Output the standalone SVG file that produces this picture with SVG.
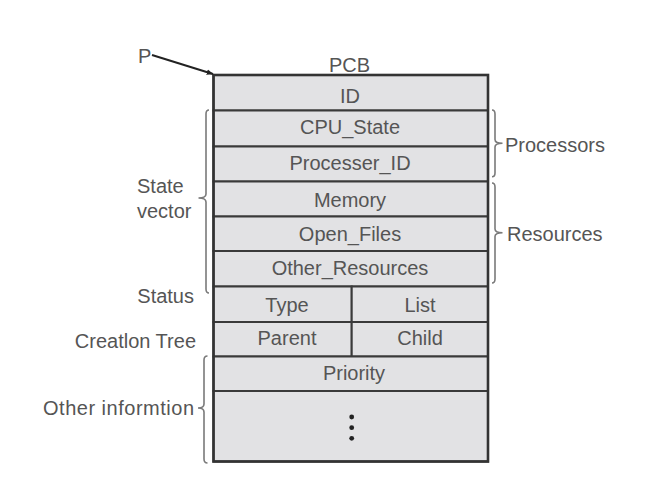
<svg xmlns="http://www.w3.org/2000/svg" width="669" height="495" viewBox="0 0 669 495">
<style>
.cell{fill:#e2e2e4;stroke:#3a3a3a;stroke-width:2}
.t{font-family:"Liberation Sans",Arial,sans-serif;font-size:20px;fill:#555}
.c{text-anchor:middle}
.e{text-anchor:end}
.br{fill:none;stroke:#7a7a7a;stroke-width:1.6}
</style>
<defs>
<marker id="ah" viewBox="0 0 10 10" refX="9" refY="5" markerWidth="7" markerHeight="7" orient="auto" markerUnits="userSpaceOnUse">
<path d="M0,1 L10,5 L0,9 Z" fill="#222"/>
</marker>
</defs>
<rect width="669" height="495" fill="#fff"/>

<g id="pcb">
<text class="t c" x="349.5" y="71.5">PCB</text>
<g id="row-id"><rect class="cell" x="213.5" y="75" width="274.5" height="35.5"/><text class="t c" x="350" y="103">ID</text></g>
<g id="row-cpu"><rect class="cell" x="213.5" y="110.5" width="274.5" height="36"/><text class="t c" x="350" y="134">CPU_State</text></g>
<g id="row-procid"><rect class="cell" x="213.5" y="146.5" width="274.5" height="35"/><text class="t c" x="350" y="170">Processer_ID</text></g>
<g id="row-mem"><rect class="cell" x="213.5" y="181.5" width="274.5" height="35"/><text class="t c" x="350" y="206.5">Memory</text></g>
<g id="row-files"><rect class="cell" x="213.5" y="216.5" width="274.5" height="34.5"/><text class="t c" x="350" y="240.5">Open_Files</text></g>
<g id="row-other"><rect class="cell" x="213.5" y="251" width="274.5" height="35.5"/><text class="t c" x="350" y="275">Other_Resources</text></g>
<g id="row-type"><rect class="cell" x="213.5" y="286.5" width="138.2" height="35.5"/><text class="t c" x="287" y="311.5">Type</text></g>
<g id="row-list"><rect class="cell" x="351.7" y="286.5" width="136.3" height="35.5"/><text class="t c" x="420" y="311.5">List</text></g>
<g id="row-parent"><rect class="cell" x="213.5" y="322" width="138.2" height="34.5"/><text class="t c" x="287" y="345">Parent</text></g>
<g id="row-child"><rect class="cell" x="351.7" y="322" width="136.3" height="34.5"/><text class="t c" x="420" y="345">Child</text></g>
<g id="row-priority"><rect class="cell" x="213.5" y="356.5" width="274.5" height="34.5"/><text class="t c" x="354" y="380">Priority</text></g>
<g id="row-more"><rect class="cell" x="213.5" y="391" width="274.5" height="70.5"/>
<circle cx="351.7" cy="417" r="2.4" fill="#222"/><circle cx="351.7" cy="427.7" r="2.4" fill="#222"/><circle cx="351.7" cy="438.3" r="2.4" fill="#222"/></g>
<rect x="213.5" y="75" width="274.5" height="386.5" fill="none" stroke="#333" stroke-width="2.6"/>
</g>

<g id="label-p"><text class="t" x="138" y="62.7">P</text></g>
<g id="labels-left">
<text class="t" x="137" y="193.3">State</text>
<text class="t" x="137" y="218.3">vector</text>
<text class="t e" x="194" y="303.3">Status</text>
<text class="t e" x="196" y="348">Creatlon Tree</text>
<text class="t e" x="194" y="415" textLength="151">Other informtion</text>
</g>
<g id="labels-right">
<text class="t" x="505" y="152.3">Processors</text>
<text class="t" x="507" y="240.5">Resources</text>
</g>

<g id="connectors">
<line x1="152" y1="55" x2="213" y2="74" stroke="#222" stroke-width="2" marker-end="url(#ah)"/>
<path class="br" d="M209,110 Q206,110 206,114 L206,194 Q206,198 198.5,198 Q206,198 206,202 L206,289 Q206,293 209,293"/>
<path class="br" d="M207.5,356 Q204,356 204,360 L204,404 Q204,408 198,408 Q204,408 204,412 L204,459 Q204,463 207.5,463"/>
<path class="br" d="M492,110 Q495,110 495,114 L495,139.5 Q495,143.3 502.5,143.3 Q495,143.3 495,147 L495,173 Q495,176.7 492,176.7"/>
<path class="br" d="M492,183 Q495,183 495,187 L495,229 Q495,232.7 502.5,232.7 Q495,232.7 495,236.5 L495,279 Q495,283 492,283"/>
</g>
</svg>
